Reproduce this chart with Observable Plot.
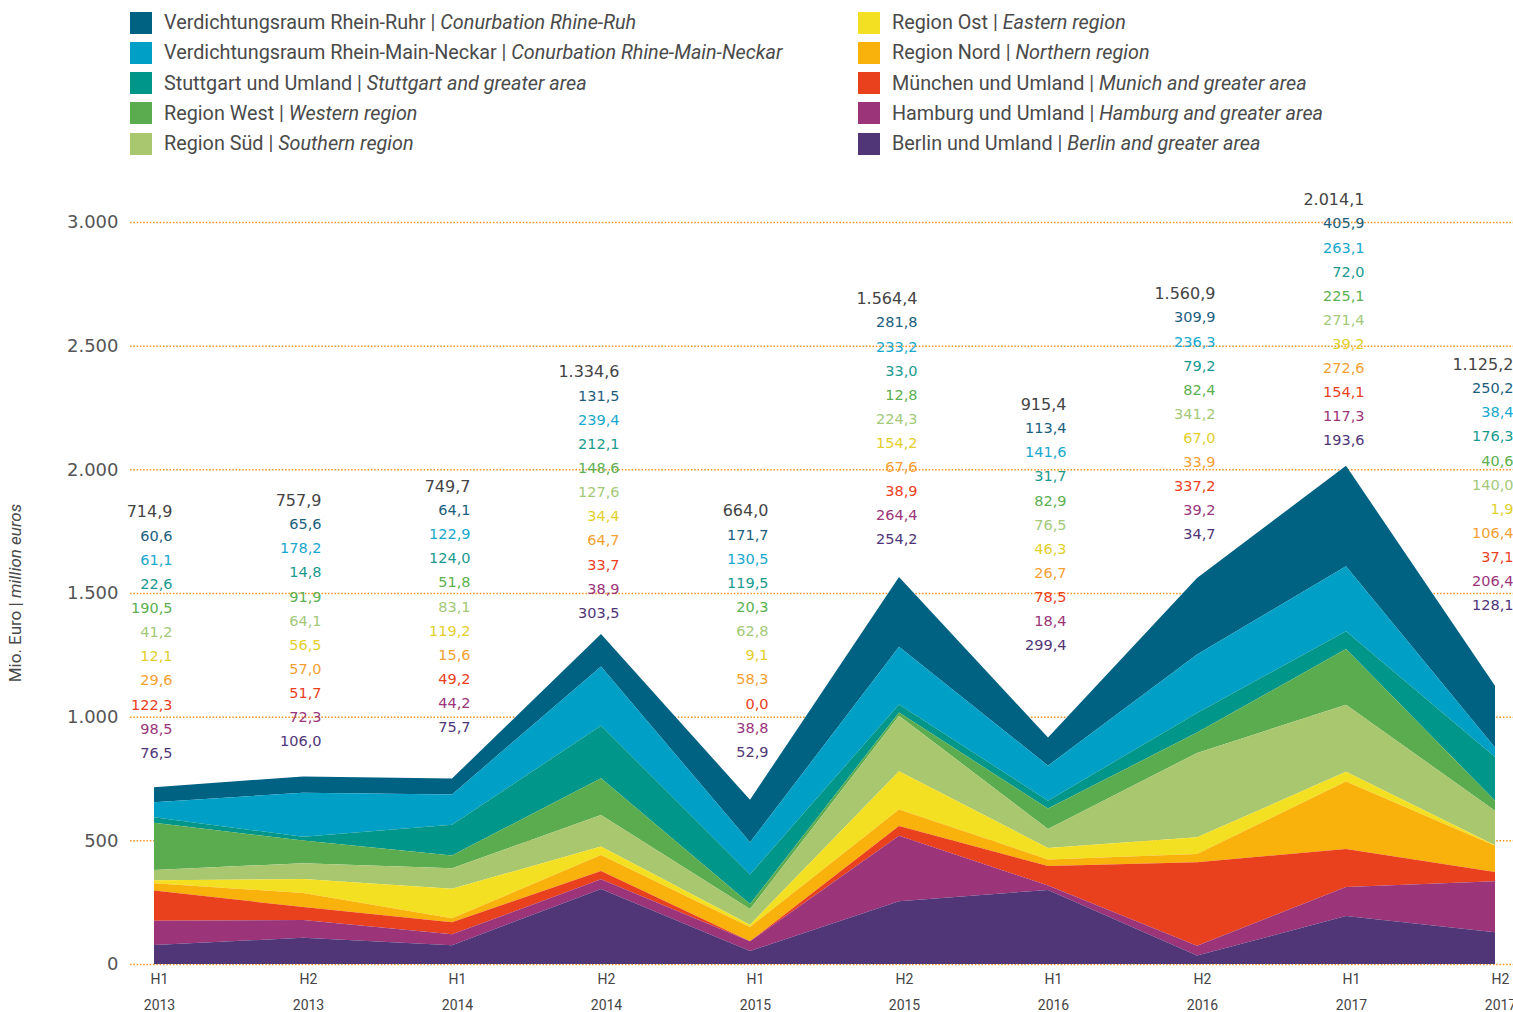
<!DOCTYPE html>
<html>
<head>
<meta charset="utf-8">
<script src="https://cdn.jsdelivr.net/npm/d3@7"></script>
<script src="https://cdn.jsdelivr.net/npm/@observablehq/plot@0.6"></script>
<style>
  body { margin: 0; background: #fff; width: 1513px; height: 1012px; position: relative; overflow: hidden; }
  #legend { position: relative; height: 165px; font-family: Roboto, sans-serif; font-size: 19.8px; color: #4a4a4a; }
  .item { position: absolute; display: flex; align-items: center; white-space: nowrap; }
  .sw { width: 22px; height: 22px; margin-right: 12px; flex: none; }
  #ytitle { position: absolute; left: 15px; top: 593px; transform: translate(-50%, -50%) rotate(-90deg); font-family: Roboto, sans-serif; font-size: 17px; color: #4a4a4a; white-space: nowrap; }
  #chart svg { display: block; }
</style>
</head>
<body>
<div id="legend"></div>
<div id="chart"></div>
<div id="ytitle">Mio. Euro | <i>million euros</i></div>
<script>
// ---- data ----
const periods = ["H1 2013", "H2 2013", "H1 2014", "H2 2014", "H1 2015", "H2 2015", "H1 2016", "H2 2016", "H1 2017", "H2 2017"];
const seriesDe = ["Verdichtungsraum Rhein-Ruhr", "Verdichtungsraum Rhein-Main-Neckar", "Stuttgart und Umland", "Region West", "Region Süd", "Region Ost", "Region Nord", "München und Umland", "Hamburg und Umland", "Berlin und Umland"];
const seriesEn = ["Conurbation Rhine-Ruh", "Conurbation Rhine-Main-Neckar", "Stuttgart and greater area", "Western region", "Southern region", "Eastern region", "Northern region", "Munich and greater area", "Hamburg and greater area", "Berlin and greater area"];
const rheinRuhr       = [60.6, 65.6, 64.1, 131.5, 171.7, 281.8, 113.4, 309.9, 405.9, 250.2];
const rheinMainNeckar = [61.1, 178.2, 122.9, 239.4, 130.5, 233.2, 141.6, 236.3, 263.1, 38.4];
const stuttgart       = [22.6, 14.8, 124.0, 212.1, 119.5, 33.0, 31.7, 79.2, 72.0, 176.3];
const west            = [190.5, 91.9, 51.8, 148.6, 20.3, 12.8, 82.9, 82.4, 225.1, 40.6];
const sued            = [41.2, 64.1, 83.1, 127.6, 62.8, 224.3, 76.5, 341.2, 271.4, 140.0];
const ost             = [12.1, 56.5, 119.2, 34.4, 9.1, 154.2, 46.3, 67.0, 39.2, 1.9];
const nord            = [29.6, 57.0, 15.6, 64.7, 58.3, 67.6, 26.7, 33.9, 272.6, 106.4];
const muenchen        = [122.3, 51.7, 49.2, 33.7, 0.0, 38.9, 78.5, 337.2, 154.1, 37.1];
const hamburg         = [98.5, 72.3, 44.2, 38.9, 38.8, 264.4, 18.4, 39.2, 117.3, 206.4];
const berlin          = [76.5, 106.0, 75.7, 303.5, 52.9, 254.2, 299.4, 34.7, 193.6, 128.1];
const totals          = [714.9, 757.9, 749.7, 1334.6, 664.0, 1564.4, 915.4, 1560.9, 2014.1, 1125.2];
// level (in Mio. Euro) at which each period's label column starts
const labelTop        = [1829, 1876, 1933, 2395, 1833, 2692, 2264, 2712, 3092, 2426];
const yTicks = [0, 500, 1000, 1500, 2000, 2500, 3000];

// ---- styles ----
const fillColors  = ["#006283", "#009fc5", "#00968a", "#5bac4f", "#a8c76f", "#f4e022", "#f9b10b", "#e9401d", "#9b3479", "#503577"];
const labelColors = ["#1b5e7e", "#18a8cd", "#1a9a8f", "#5cb050", "#a3c978", "#e2cf2c", "#f5a033", "#e9401d", "#9b3479", "#4f3577"];

const seriesValues = [rheinRuhr, rheinMainNeckar, stuttgart, west, sued, ost, nord, muenchen, hamburg, berlin];
const tidy = [];
seriesDe.forEach((s, k) => periods.forEach((p, i) => tidy.push({period: p, series: s, value: seriesValues[k][i]})));
const stackOrder = seriesDe.slice().reverse(); // Berlin at the bottom

const loc = d3.formatLocale({decimal: ",", thousands: ".", grouping: [3], currency: ["", " €"]});
const fmt1 = loc.format(",.1f");
const fmt0 = loc.format(",.0f");

// ---- legend ----
const legend = document.getElementById("legend");
seriesDe.forEach((s, k) => {
  const col = k < 5 ? 0 : 1;
  const row = k % 5;
  const el = document.createElement("div");
  el.className = "item";
  el.style.left = (col === 0 ? 130 : 858) + "px";
  el.style.top = (11 + row * 30.3) + "px";
  el.innerHTML = `<span class="sw" style="background:${fillColors[k]}"></span><span>${s} | <i>${seriesEn[k]}</i></span>`;
  legend.appendChild(el);
});

// ---- chart ----
const labelMarks = seriesDe.map((s, k) => Plot.text(periods, {
  x: d => d,
  y: (d, i) => labelTop[i],
  text: (d, i) => fmt1(seriesValues[k][i]),
  dy: 24.1 * (k + 1),
  dx: 18,
  textAnchor: "end",
  fill: labelColors[k],
  fontSize: 14.5,
  fontFamily: "DejaVu Sans"
}));

const chart = Plot.plot({
  width: 1513,
  height: 847,
  marginTop: 57,
  marginBottom: 48,
  marginLeft: 154,
  marginRight: 18,
  style: {fontFamily: "DejaVu Sans", background: "#fff", overflow: "visible"},
  x: {type: "point", domain: periods, padding: 0},
  y: {domain: [0, 3000]},
  color: {domain: seriesDe, range: fillColors},
  marks: [
    Plot.ruleY(yTicks, {stroke: "#f39221", strokeWidth: 1.5, strokeDasharray: "1.5,1.8", insetLeft: -24, insetRight: -18}),
    Plot.areaY(tidy, Plot.stackY({x: "period", y: "value", z: "series", fill: "series", order: stackOrder})),
    Plot.axisY({ticks: yTicks, tickSize: 0, tickPadding: 36, tickFormat: fmt0, fontSize: 18, fill: "#555", label: null}),
    Plot.axisX({tickSize: 0, tickPadding: 10, tickFormat: d => d.split(" ")[0], fontSize: 14, fill: "#444", fontFamily: "Roboto", dx: 5, label: null}),
    Plot.axisX({tickSize: 0, tickPadding: 36, tickFormat: d => d.split(" ")[1], fontSize: 14, fill: "#444", fontFamily: "Roboto", dx: 5, label: null}),
    Plot.text(periods, {x: d => d, y: (d, i) => labelTop[i], text: (d, i) => fmt1(totals[i]), dx: 18, textAnchor: "end", fill: "#444", fontSize: 16, fontFamily: "DejaVu Sans"}),
    ...labelMarks
  ]
});
document.getElementById("chart").appendChild(chart);
</script>
</body>
</html>
